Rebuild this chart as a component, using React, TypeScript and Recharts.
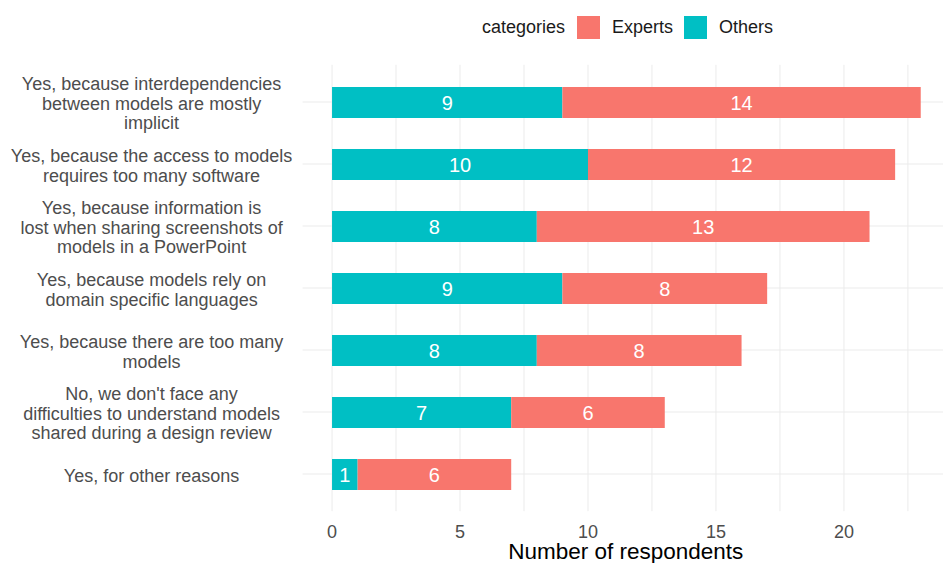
import React from 'react';
import { BarChart, Bar, XAxis, YAxis, CartesianGrid, LabelList } from 'recharts';

const categories: string[] = [
  'Yes, because interdependencies\nbetween models are mostly\nimplicit',
  'Yes, because the access to models\nrequires too many software',
  'Yes, because information is\nlost when sharing screenshots of\nmodels in a PowerPoint',
  'Yes, because models rely on\ndomain specific languages',
  'Yes, because there are too many\nmodels',
  "No, we don't face any\ndifficulties to understand models\nshared during a design review",
  'Yes, for other reasons',
];
const othersValues: number[] = [9, 10, 8, 9, 8, 7, 1];
const expertsValues: number[] = [14, 12, 13, 8, 8, 6, 6];

const xTicks: number[] = [0, 2.5, 5, 7.5, 10, 12.5, 15, 17.5, 20, 22.5];
const xLabeledTicks: number[] = [0, 5, 10, 15, 20];
const xDomain: [number, number] = [-1.15, 23.87];

const legendTitle = 'categories';
const legendNames: string[] = ['Experts', 'Others'];
const legendColors: string[] = ['#F8766D', '#00BFC4'];

const COLOR_OTHERS = '#00BFC4';
const COLOR_EXPERTS = '#F8766D';
const FONT = '"Liberation Sans", Arial, sans-serif';

const data = categories.map((c, i) => ({
  label: c,
  others: othersValues[i],
  experts: expertsValues[i],
}));

const YTick = (props: any) => {
  const { x, y, payload } = props;
  const lines: string[] = String(payload.value).split('\n');
  const lh = 19.5;
  const cx = x - 143;
  const start = y + 1.5 - ((lines.length - 1) * lh) / 2;
  return (
    <text x={cx} y={start} textAnchor="middle" fill="#4d4d4d" fontSize={18} fontFamily={FONT}>
      {lines.map((l, i) => (
        <tspan key={i} x={cx} y={start + i * lh} dy="0.35em">
          {l}
        </tspan>
      ))}
    </text>
  );
};

const XTitle = (props: any) => {
  const vb = props.viewBox || {};
  return (
    <text
      x={vb.x + vb.width / 2 + 3}
      y={vb.y + 48}
      textAnchor="middle"
      fill="#000000"
      fontSize={22.5}
      fontFamily={FONT}
    >
      Number of respondents
    </text>
  );
};

export default function App() {
  return (
    <div style={{ position: 'absolute', left: 0, top: 0, width: 943, height: 563, background: '#ffffff' }}>
      <div
        style={{
          position: 'absolute',
          left: 482,
          top: 16,
          height: 23,
          display: 'flex',
          alignItems: 'center',
          fontFamily: FONT,
          fontSize: 18,
          color: '#1a1a1a',
          whiteSpace: 'nowrap',
          zIndex: 2,
        }}
      >
        <span style={{ marginRight: 12 }}>{legendTitle}</span>
        {legendNames.map((n, i) => (
          <span key={n} style={{ display: 'flex', alignItems: 'center', marginRight: 11 }}>
            <span style={{ display: 'inline-block', width: 23, height: 23, background: legendColors[i], marginRight: 12 }} />
            <span>{n}</span>
          </span>
        ))}
      </div>
      <BarChart
        width={943}
        height={563}
        data={data}
        layout="vertical"
        margin={{ top: 64.8, right: 0, bottom: 0, left: 0 }}
        barSize={31}
      >
        <CartesianGrid stroke="#ebebeb" strokeWidth={1} syncWithTicks />
        <XAxis
          type="number"
          domain={xDomain}
          allowDataOverflow
          ticks={xTicks}
          interval={0}
          tickFormatter={(v: number) => (xLabeledTicks.includes(v) ? String(v) : '')}
          axisLine={false}
          tickLine={false}
          tickMargin={8}
          height={51.8}
          tick={{ fill: '#4d4d4d', fontSize: 18, fontFamily: FONT }}
          label={<XTitle />}
        />
        <YAxis
          type="category"
          dataKey="label"
          width={302.6}
          axisLine={false}
          tickLine={false}
          interval={0}
          padding={{ top: 6.2, bottom: 6.2 }}
          tick={<YTick />}
        />
        <Bar dataKey="others" stackId="a" fill={COLOR_OTHERS} isAnimationActive={false}>
          <LabelList dataKey="others" position="center" fill="#ffffff" fontSize={20} fontFamily={FONT} />
        </Bar>
        <Bar dataKey="experts" stackId="a" fill={COLOR_EXPERTS} isAnimationActive={false}>
          <LabelList dataKey="experts" position="center" fill="#ffffff" fontSize={20} fontFamily={FONT} />
        </Bar>
      </BarChart>
    </div>
  );
}
